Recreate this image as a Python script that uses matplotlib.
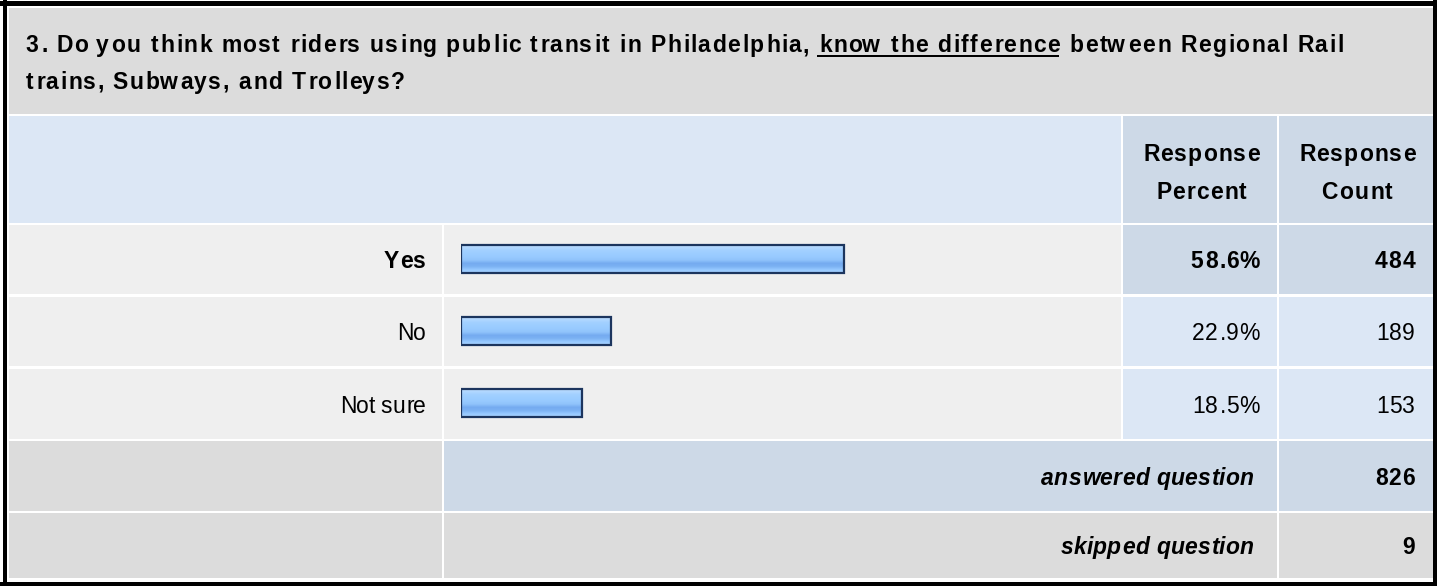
import matplotlib
matplotlib.use("Agg")
import matplotlib.pyplot as plt
import numpy as np
from matplotlib.patches import Rectangle
from matplotlib.colors import LinearSegmentedColormap
from matplotlib.font_manager import FontProperties, findfont
from matplotlib.ft2font import FT2Font

# ---- data ----
question_num = "3."
question_pre = "Do you think most riders using public transit in Philadelphia, "
question_ul = "know the difference"
question_post = " between Regional Rail"
question_line2 = "trains, Subways, and Trolleys?"
answers = ["Yes", "No", "Not sure"]
percents = [58.6, 22.9, 18.5]
counts = [484, 189, 153]
answered = 826
skipped = 9
header_cols = [("Response", "Percent"), ("Response", "Count")]

W, H, DPI = 1437, 586, 100
FS = 16.5          # points

TITLE_BG = "#dcdcdc"
HEAD_BG = "#dce7f5"
DARK_BG = "#cdd9e7"
ROW_BG = "#efefef"

fig = plt.figure(figsize=(W / DPI, H / DPI), dpi=DPI)
ax = fig.add_axes([0, 0, 1, 1])
ax.set_xlim(0, W)
ax.set_ylim(H, 0)
ax.axis("off")


def cell(x0, y0, x1, y1, color):
    ax.add_patch(Rectangle((x0, y0), x1 - x0, y1 - y0, facecolor=color,
                           edgecolor="none", zorder=1))


def spaced(x, y, s, size=FS, spacing=0.0, ha="left", weight="normal",
           style="normal", family="Liberation Sans"):
    """draw text char by char so letter spacing can be widened"""
    fp = FontProperties(family=family, weight=weight, style=style, size=size)
    ft = FT2Font(findfont(fp), hinting_factor=1)
    ft.set_size(size, DPI)
    glyphs = [ft.load_char(ord(c)) for c in s]
    adv = [g.linearHoriAdvance / 65536 for g in glyphs]
    total = sum(adv) + spacing * (len(s) - 1)
    x0 = {"left": x, "right": x - total, "center": x - total / 2}[ha]
    pos = x0
    for c, g, a in zip(s, glyphs, adv):
        if c != " ":
            ax.text(pos + g.horiBearingX / 64, y, c, fontproperties=fp,
                    ha="left", va="baseline", color="black", zorder=5)
        pos += a + spacing
    return x0, pos - spacing


# ---- frame ----
for (x0, y0, x1, y1) in [(3, 0, 7, H), (0, 1, W, 6), (1433, 0, W, H), (0, 582, W, H)]:
    ax.add_patch(Rectangle((x0, y0), x1 - x0, y1 - y0, facecolor="black",
                           edgecolor="none", zorder=3))

L, C1, C2, C3, R = 9, 442, 1121, 1277, 1433
# title
cell(L, 8, R, 114, TITLE_BG)
# header
cell(L, 116, C2, 223, HEAD_BG)
cell(C2 + 2, 116, C3, 223, DARK_BG)
cell(C3 + 2, 116, R, 223, DARK_BG)

row_tops = [225, 297, 369]
row_bots = [294, 366, 439]
top_i = int(np.argmax(percents))
for i in range(len(answers)):
    t, b = row_tops[i], row_bots[i]
    cell(L, t, C1, b, ROW_BG)
    cell(C1 + 2, t, C2, b, ROW_BG)
    col = DARK_BG if i == top_i else HEAD_BG
    cell(C2 + 2, t, C3, b, col)
    cell(C3 + 2, t, R, b, col)

# summary rows
cell(L, 441, C1, 511, TITLE_BG)
cell(C1 + 2, 441, C3, 511, DARK_BG)
cell(C3 + 2, 441, R, 511, DARK_BG)
cell(L, 513, C1, 578, TITLE_BG)
cell(C1 + 2, 513, C3, 578, TITLE_BG)
cell(C3 + 2, 513, R, 578, TITLE_BG)

# ---- title text ----
TS = 1.45
x = 25
_, x = spaced(x, 52, question_num + " " + question_pre, spacing=TS, weight="bold")
x += TS
u0, u1 = spaced(x, 52, question_ul, spacing=TS, weight="bold")
ax.add_patch(Rectangle((u0, 55), u1 - u0, 2, facecolor="black", edgecolor="none", zorder=5))
spaced(u1 + TS, 52, question_post, spacing=TS, weight="bold")
spaced(25, 89, question_line2, spacing=TS, weight="bold")

# ---- header text ----
for (a, b), cx in zip(header_cols, [(C2 + C3) / 2 + 1, (C3 + R) / 2 + 1]):
    spaced(cx, 161, a, spacing=1.1, ha="center", weight="bold")
    spaced(cx, 199, b, spacing=1.1, ha="center", weight="bold")

# ---- rows text ----
for i, (lab, p, n) in enumerate(zip(answers, percents, counts)):
    yb = (row_tops[i] + row_bots[i]) / 2 + 9
    w = "bold" if i == top_i else "normal"
    spaced(425, yb, lab, ha="right", weight=w)
    spaced(1259, yb, f"{p:.1f}%", spacing=0.8, ha="right", weight=w)
    spaced(1414, yb, str(n), spacing=0.8, ha="right", weight=w)

spaced(1254, 485, "answered question", spacing=0.3, ha="right", weight="bold", style="italic")
spaced(1414, 485, str(answered), spacing=0.8, ha="right", weight="bold")
spaced(1254, 554, "skipped question", spacing=0.3, ha="right", weight="bold", style="italic")
spaced(1414, 554, str(skipped), spacing=0.8, ha="right", weight="bold")

# ---- bars ----
bax = fig.add_axes([461 / W, 1 - 439 / H, 654 / W, 216 / H])
bax.axis("off")
bax.patch.set_alpha(0)
bar_h = 0.4
grad_colors = ["#c8e4ff", "#b2d8ff", "#a2d0ff", "#9ccdff", "#98caff",
               "#90c3fb", "#75abf0", "#7cb2f3", "#95c8ff", "#a9d3ff"]
cmap = LinearSegmentedColormap.from_list("bar", grad_colors)
grad = np.linspace(0, 1, 64).reshape(-1, 1)
ypos = np.arange(len(answers))
bars = bax.barh(ypos, percents, height=bar_h, facecolor="none",
                edgecolor="#1c355e", linewidth=1.6, zorder=3)
for rect, y, p in zip(bars, ypos, percents):
    im = bax.imshow(grad, cmap=cmap, aspect="auto", zorder=2,
                    extent=[0, p, y + bar_h / 2, y - bar_h / 2])
    im.set_clip_path(rect)
bax.set_xlim(0, 100)
bax.set_ylim(len(answers) - 0.5, -0.5)

fig.savefig("out.png", dpi=DPI)
